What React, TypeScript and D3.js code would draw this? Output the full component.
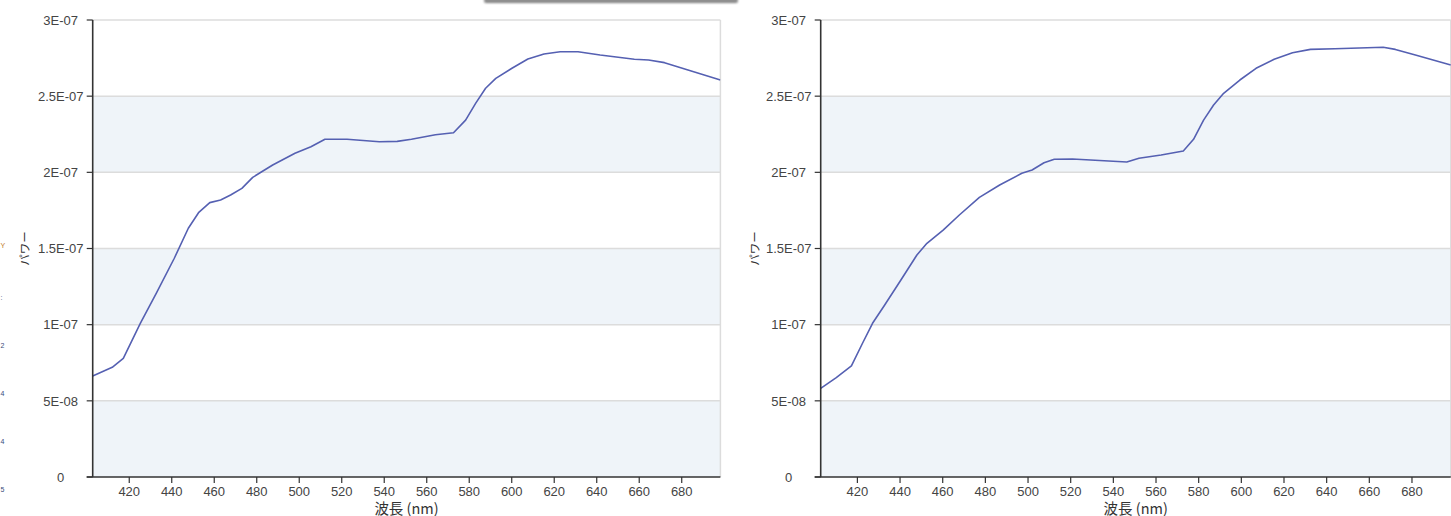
import React from "react";
import * as d3 from "d3";

// Spectral power readings for two measurements (wavelength in nm, power in W)
const wavelengthsA = [402.8, 412, 417.2, 425.2, 432.7, 441.2, 447.8, 452.6, 457.9, 463, 467.7, 473, 478.1, 487.5, 498, 505.5, 512.1, 522.5, 537.7, 546.1, 552.8, 564.1, 572.6, 578.3, 583, 587.7, 592.5, 600.1, 607.6, 615.2, 622.8, 631.2, 641.6, 657.7, 664.4, 671.9, 698.2];
const powerA = [6.63e-8, 7.2e-8, 7.79e-8, 1.009e-7, 1.206e-7, 1.436e-7, 1.633e-7, 1.735e-7, 1.801e-7, 1.818e-7, 1.851e-7, 1.895e-7, 1.967e-7, 2.048e-7, 2.125e-7, 2.168e-7, 2.217e-7, 2.217e-7, 2.201e-7, 2.203e-7, 2.217e-7, 2.247e-7, 2.26e-7, 2.343e-7, 2.453e-7, 2.552e-7, 2.617e-7, 2.683e-7, 2.744e-7, 2.777e-7, 2.792e-7, 2.792e-7, 2.77e-7, 2.742e-7, 2.737e-7, 2.72e-7, 2.606e-7];

const wavelengthsB = [402.8, 410.1, 417.2, 422.4, 427.1, 432.8, 440.4, 447.9, 452.6, 460.2, 467.8, 477.2, 486.7, 497.1, 501.9, 507.5, 512.3, 520.8, 537.8, 546.3, 552, 562.4, 572.8, 577.6, 582.3, 587, 591.7, 599.3, 606.9, 615.4, 624, 632.4, 643.8, 655.2, 666.5, 672.2, 681.6, 698.2];
const powerB = [5.82e-8, 6.52e-8, 7.29e-8, 8.78e-8, 1.009e-7, 1.129e-7, 1.293e-7, 1.457e-7, 1.534e-7, 1.621e-7, 1.72e-7, 1.836e-7, 1.917e-7, 1.994e-7, 2.015e-7, 2.063e-7, 2.086e-7, 2.088e-7, 2.074e-7, 2.068e-7, 2.092e-7, 2.114e-7, 2.14e-7, 2.217e-7, 2.343e-7, 2.442e-7, 2.519e-7, 2.606e-7, 2.683e-7, 2.742e-7, 2.785e-7, 2.807e-7, 2.811e-7, 2.816e-7, 2.821e-7, 2.807e-7, 2.77e-7, 2.704e-7];

const yTicks = [0, 5e-8, 1e-7, 1.5e-7, 2e-7, 2.5e-7, 3e-7];
const yTickLabels = ["0", "5E-08", "1E-07", "1.5E-07", "2E-07", "2.5E-07", "3E-07"];
const xTicks = [420, 440, 460, 480, 500, 520, 540, 560, 580, 600, 620, 640, 660, 680];
const xTitle = "波長 (nm)";
const yTitle = "パワー";
const sideFragments = ["Y", ":", "2", "4", "4", "5"];

const W = 1451;
const H = 516;
const TOP = 20;
const BOTTOM = 477;
const X_DOMAIN: [number, number] = [402.8, 698.2];
const LABEL_FONT = "'Liberation Sans', Arial, sans-serif";
const CJK_FONT = "'Noto Sans CJK JP', 'Noto Sans', sans-serif";

type PanelProps = {
  left: number;
  right: number;
  wavelengths: number[];
  power: number[];
  titleX: number;
  clipId: string;
};

function Panel({ left, right, wavelengths, power, titleX, clipId }: PanelProps) {
  const x = d3.scaleLinear().domain(X_DOMAIN).range([left, right]);
  const y = d3.scaleLinear().domain([0, 3e-7]).range([BOTTOM, TOP]);
  const line = d3
    .line<number>()
    .x((_, i) => x(wavelengths[i]))
    .y((d) => y(d))
    .curve(d3.curveLinear);

  const bands = d3.range(0, yTicks.length - 1, 2).map((i) => [yTicks[i], yTicks[i + 1]]);
  const cx = (left + right) / 2;
  const cy = (TOP + BOTTOM) / 2;

  return (
    <g>
      <defs>
        <clipPath id={clipId}>
          <rect x={left} y={TOP} width={right - left} height={BOTTOM - TOP} />
        </clipPath>
      </defs>
      {bands.map(([a, b], i) => (
        <rect key={i} x={left} y={y(b)} width={right - left} height={y(a) - y(b)} fill="#eff4f9" />
      ))}
      {yTicks.slice(1).map((t, i) => (
        <line key={i} x1={left} x2={right} y1={y(t)} y2={y(t)} stroke="#dcdcdc" strokeWidth={1.5} />
      ))}
      <line x1={right} x2={right} y1={TOP} y2={BOTTOM} stroke="#dcdcdc" strokeWidth={1.5} />
      <path
        d={line(power) || ""}
        fill="none"
        stroke="#5560b2"
        strokeWidth={1.6}
        strokeLinejoin="round"
        clipPath={`url(#${clipId})`}
      />
      {/* axes */}
      <line x1={left} x2={left} y1={TOP} y2={BOTTOM} stroke="#333" strokeWidth={1.6} />
      <line x1={left - 6} x2={right} y1={BOTTOM} y2={BOTTOM} stroke="#333" strokeWidth={1.6} />
      {yTicks.map((t, i) => (
        <g key={i}>
          <line x1={left - 6} x2={left} y1={y(t)} y2={y(t)} stroke="#333" strokeWidth={1.2} />
          <text
            x={left - 32}
            y={y(t)}
            dy="0.36em"
            textAnchor="middle"
            fontFamily={LABEL_FONT}
            fontSize={13}
            fill="#444"
          >
            {yTickLabels[i]}
          </text>
        </g>
      ))}
      {xTicks.map((t) => (
        <g key={t}>
          <line x1={x(t)} x2={x(t)} y1={BOTTOM} y2={BOTTOM + 6} stroke="#333" strokeWidth={1.2} />
          <text x={x(t)} y={BOTTOM + 18.5} textAnchor="middle" fontFamily={LABEL_FONT} fontSize={13} fill="#444">
            {t}
          </text>
        </g>
      ))}
      <text x={cx} y={513.5} textAnchor="middle" fontFamily={CJK_FONT} fontSize={14.5} fill="#333">
        {xTitle}
      </text>
      <text
        transform={`translate(${titleX},${cy}) rotate(-90)`}
        dy="0.36em"
        textAnchor="middle"
        fontFamily={CJK_FONT}
        fontSize={11.5}
        fill="#333"
      >
        {yTitle}
      </text>
    </g>
  );
}

export default function App() {
  const fragY = [245, 297, 345, 393, 441, 489];
  return (
    <svg
      width={W}
      height={H}
      viewBox={`0 0 ${W} ${H}`}
      style={{ position: "absolute", left: 0, top: 0, background: "#fff" }}
    >
      <defs>
        <linearGradient id="shadeGrad" x1="0" y1="0" x2="0" y2="1">
          <stop offset="0" stopColor="#d0d0d0" />
          <stop offset="1" stopColor="#7a7a7a" />
        </linearGradient>
        <filter id="soft" x="-10%" y="-200%" width="120%" height="500%">
          <feGaussianBlur stdDeviation="1.3" />
        </filter>
      </defs>
      <rect width={W} height={H} fill="#fff" />
      {/* shadow of an overlapping panel along the top edge */}
      <rect x={484} y={-8} width={254} height={11} rx={2} fill="url(#shadeGrad)" filter="url(#soft)" />
      {/* small labels of a neighbouring panel along the left edge */}
      {sideFragments.map((s, i) => (
        <text
          key={i}
          x={0.5}
          y={fragY[i]}
          dy="0.36em"
          fontFamily={LABEL_FONT}
          fontSize={7}
          fill={i === 0 ? "#c07a2a" : "#3a4a7a"}
        >
          {s}
        </text>
      ))}
      <Panel left={92.7} right={720.4} wavelengths={wavelengthsA} power={powerA} titleX={24.6} clipId="clipA" />
      <Panel left={820.7} right={1450.8} wavelengths={wavelengthsB} power={powerB} titleX={755} clipId="clipB" />
    </svg>
  );
}
